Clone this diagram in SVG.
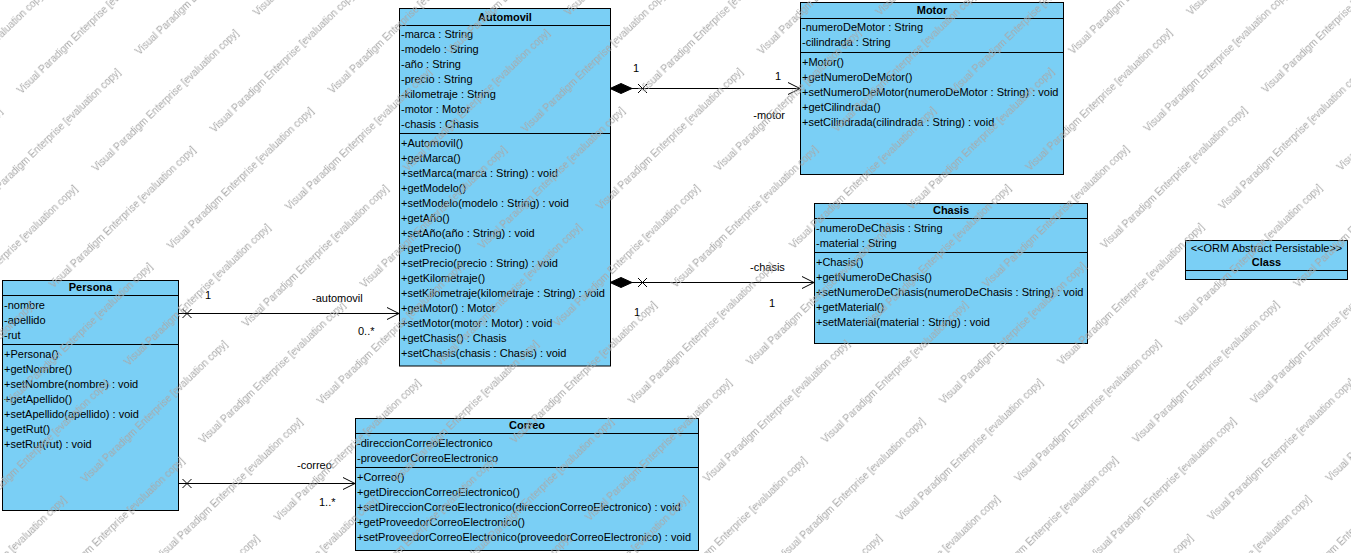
<svg xmlns="http://www.w3.org/2000/svg" width="1351" height="553" viewBox="0 0 1351 553">
<defs>
<style>
.box{fill:#7ACFF5;stroke:#000;stroke-width:1}
.ln{stroke:#000;stroke-width:1;fill:none}
text{font-family:"Liberation Sans",Arial,sans-serif;font-size:11px;fill:#000}
.t{font-weight:bold;text-anchor:middle}
.c{text-anchor:middle}
.e{text-anchor:end}
.wm{font-size:10px;fill:#a8a8a8}
</style>
<pattern id="wmp" patternUnits="userSpaceOnUse" width="224" height="108" patternTransform="translate(1123,429) rotate(-44)">
<text class="wm" x="0" y="20">Visual Paradigm Enterprise [evaluation copy]</text>
<text class="wm" x="112" y="74">Visual Paradigm Enterprise [evaluation copy]</text>
<text class="wm" x="-112" y="74">Visual Paradigm Enterprise [evaluation copy]</text>
</pattern>
</defs>
<rect width="1351" height="553" fill="#fff"/>

<g id="connectors">
<g id="c-motor">
<line class="ln" x1="610" y1="88.5" x2="800" y2="88.5"/>
<polygon points="610,88.5 621,83.5 632,88.5 621,93.5" fill="#000" stroke="#000"/>
<path class="ln" d="M638,84 L647,93 M638,93 L647,84"/>
<polyline class="ln" points="788,82.5 800,88.5 788,94.5"/>
<text x="633" y="72">1</text>
<text x="775" y="80">1</text>
<text class="e" x="785" y="119">-motor</text>
</g>
<g id="c-chasis">
<line class="ln" x1="610" y1="282.5" x2="814" y2="282.5"/>
<polygon points="610,282.5 621,277.5 632,282.5 621,287.5" fill="#000" stroke="#000"/>
<path class="ln" d="M638,278 L647,287 M638,287 L647,278"/>
<polyline class="ln" points="802,276.5 814,282.5 802,288.5"/>
<text x="750" y="271">-chasis</text>
<text x="769" y="307">1</text>
<text x="634" y="316">1</text>
</g>
<g id="c-automovil">
<line class="ln" x1="178" y1="313.5" x2="399" y2="313.5"/>
<path class="ln" d="M182.5,309 L191.5,318 M182.5,318 L191.5,309"/>
<polyline class="ln" points="387,307.5 399,313.5 387,319.5"/>
<text x="205" y="299">1</text>
<text x="312" y="302">-automovil</text>
<text x="358" y="335">0..*</text>
</g>
<g id="c-correo">
<line class="ln" x1="178" y1="483.5" x2="355" y2="483.5"/>
<path class="ln" d="M182.5,479 L191.5,488 M182.5,488 L191.5,479"/>
<polyline class="ln" points="343,477.5 355,483.5 343,489.5"/>
<text x="297" y="469">-correo</text>
<text x="319" y="506">1..*</text>
</g>
</g>

<g id="automovil">
<rect class="box" x="399.5" y="8.5" width="211" height="357.5"/>
<line class="ln" x1="399.5" y1="25.5" x2="610.5" y2="25.5"/>
<line class="ln" x1="399.5" y1="133.5" x2="610.5" y2="133.5"/>
<text class="t" x="505" y="21">Automovil</text>
<text x="401" y="38">-marca : String</text>
<text x="401" y="53">-modelo : String</text>
<text x="401" y="68">-año : String</text>
<text x="401" y="83">-precio : String</text>
<text x="401" y="98">-kilometraje : String</text>
<text x="401" y="113">-motor : Motor</text>
<text x="401" y="128">-chasis : Chasis</text>
<text x="401" y="147">+Automovil()</text>
<text x="401" y="162">+getMarca()</text>
<text x="401" y="177">+setMarca(marca : String) : void</text>
<text x="401" y="192">+getModelo()</text>
<text x="401" y="207">+setModelo(modelo : String) : void</text>
<text x="401" y="222">+getAño()</text>
<text x="401" y="237">+setAño(año : String) : void</text>
<text x="401" y="252">+getPrecio()</text>
<text x="401" y="267">+setPrecio(precio : String) : void</text>
<text x="401" y="282">+getKilometraje()</text>
<text x="401" y="297">+setKilometraje(kilometraje : String) : void</text>
<text x="401" y="312">+getMotor() : Motor</text>
<text x="401" y="327">+setMotor(motor : Motor) : void</text>
<text x="401" y="342">+getChasis() : Chasis</text>
<text x="401" y="357">+setChasis(chasis : Chasis) : void</text>
</g>

<g id="motor">
<rect class="box" x="800.5" y="2.5" width="263" height="172"/>
<line class="ln" x1="800.5" y1="18.5" x2="1063.5" y2="18.5"/>
<line class="ln" x1="800.5" y1="52.5" x2="1063.5" y2="52.5"/>
<text class="t" x="932" y="14">Motor</text>
<text x="802" y="31">-numeroDeMotor : String</text>
<text x="802" y="46">-cilindrada : String</text>
<text x="802" y="66">+Motor()</text>
<text x="802" y="81">+getNumeroDeMotor()</text>
<text x="802" y="96">+setNumeroDeMotor(numeroDeMotor : String) : void</text>
<text x="802" y="111">+getCilindrada()</text>
<text x="802" y="126">+setCilindrada(cilindrada : String) : void</text>
</g>

<g id="chasis">
<rect class="box" x="814.5" y="203.5" width="273" height="140"/>
<line class="ln" x1="814.5" y1="218.5" x2="1087.5" y2="218.5"/>
<line class="ln" x1="814.5" y1="252.5" x2="1087.5" y2="252.5"/>
<text class="t" x="951" y="214">Chasis</text>
<text x="816" y="232">-numeroDeChasis : String</text>
<text x="816" y="247">-material : String</text>
<text x="816" y="266">+Chasis()</text>
<text x="816" y="281">+getNumeroDeChasis()</text>
<text x="816" y="296">+setNumeroDeChasis(numeroDeChasis : String) : void</text>
<text x="816" y="311">+getMaterial()</text>
<text x="816" y="326">+setMaterial(material : String) : void</text>
</g>

<g id="persona">
<rect class="box" x="2.5" y="280.5" width="176" height="230"/>
<line class="ln" x1="2.5" y1="295.5" x2="178.5" y2="295.5"/>
<line class="ln" x1="2.5" y1="344.5" x2="178.5" y2="344.5"/>
<text class="t" x="90.5" y="291">Persona</text>
<text x="4" y="309">-nombre</text>
<text x="4" y="324">-apellido</text>
<text x="4" y="339">-rut</text>
<text x="4" y="358">+Persona()</text>
<text x="4" y="373">+getNombre()</text>
<text x="4" y="388">+setNombre(nombre) : void</text>
<text x="4" y="403">+getApellido()</text>
<text x="4" y="418">+setApellido(apellido) : void</text>
<text x="4" y="433">+getRut()</text>
<text x="4" y="448">+setRut(rut) : void</text>
</g>

<g id="correo">
<rect class="box" x="355.5" y="418.5" width="343" height="132"/>
<line class="ln" x1="355.5" y1="433.5" x2="698.5" y2="433.5"/>
<line class="ln" x1="355.5" y1="467.5" x2="698.5" y2="467.5"/>
<text class="t" x="527" y="429">Correo</text>
<text x="357" y="447">-direccionCorreoElectronico</text>
<text x="357" y="462">-proveedorCorreoElectronico</text>
<text x="357" y="481">+Correo()</text>
<text x="357" y="496">+getDireccionCorreoElectronico()</text>
<text x="357" y="511">+setDireccionCorreoElectronico(direccionCorreoElectronico) : void</text>
<text x="357" y="526">+getProveedorCorreoElectronico()</text>
<text x="357" y="541">+setProveedorCorreoElectronico(proveedorCorreoElectronico) : void</text>
</g>

<g id="orm-class">
<rect class="box" x="1185.5" y="240.5" width="162" height="39"/>
<line class="ln" x1="1185.5" y1="270.5" x2="1347.5" y2="270.5"/>
<text class="c" x="1266.5" y="252">&lt;&lt;ORM Abstract Persistable&gt;&gt;</text>
<text class="t" x="1266.5" y="266">Class</text>
</g>

<g id="watermark">
<rect width="1351" height="553" fill="url(#wmp)" pointer-events="none"/>
</g>
</svg>
